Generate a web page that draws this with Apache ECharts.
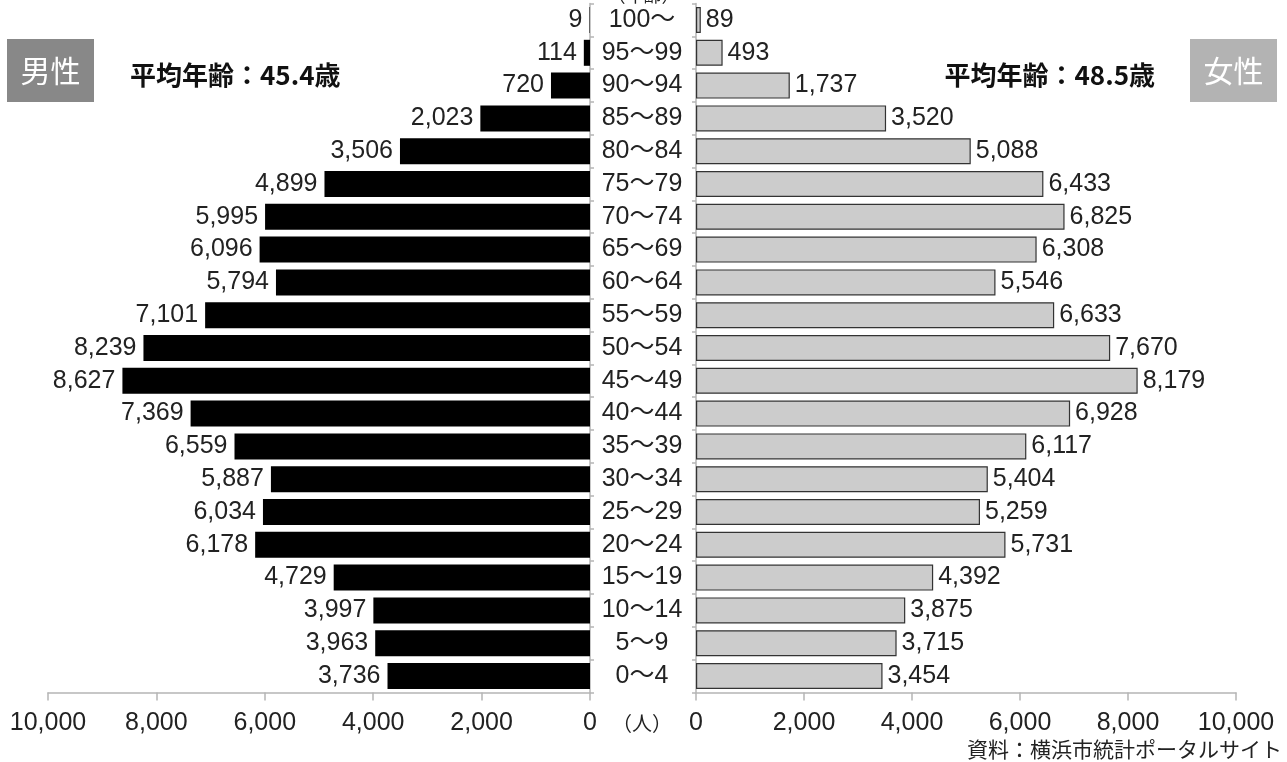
<!DOCTYPE html>
<html>
<head>
<meta charset="utf-8">
<script src="https://cdn.jsdelivr.net/npm/echarts@6/dist/echarts.min.js"></script>
<style>
  html, body { margin: 0; padding: 0; background: #fff; }
  #chart { width: 1287px; height: 762px; }
</style>
</head>
<body>
<div id="chart"></div>
<script>
// Age groups, youngest first (bottom of the pyramid)
const ageGroups = ['0〜4', '5〜9', '10〜14', '15〜19', '20〜24', '25〜29', '30〜34', '35〜39',
  '40〜44', '45〜49', '50〜54', '55〜59', '60〜64', '65〜69', '70〜74', '75〜79',
  '80〜84', '85〜89', '90〜94', '95〜99', '100〜'];
// Population (persons)
const male = [3736, 3963, 3997, 4729, 6178, 6034, 5887, 6559, 7369, 8627, 8239, 7101,
  5794, 6096, 5995, 4899, 3506, 2023, 720, 114, 9];
const female = [3454, 3715, 3875, 4392, 5731, 5259, 5404, 6117, 6928, 8179, 7670, 6633,
  5546, 6308, 6825, 6433, 5088, 3520, 1737, 493, 89];
const axisTicks = { min: 0, max: 10000, interval: 2000 };
const maleAvg = '平均年齢：45.4歳';
const femaleAvg = '平均年齢：48.5歳';
const sourceNote = '資料：横浜市統計ポータルサイト';

const FONT = "'Liberation Sans', 'Noto Sans CJK JP', sans-serif";
const CJK = "'Noto Sans CJK JP', sans-serif";
const fmt = v => Number(v).toLocaleString('en-US');

const chart = echarts.init(document.getElementById('chart'));

const valueAxisBase = {
  type: 'value',
  min: axisTicks.min, max: axisTicks.max, interval: axisTicks.interval,
  splitLine: { show: false },
  axisLine: { show: true, lineStyle: { color: '#b5b5b5', width: 1.5 } },
  axisTick: { show: true, length: 8, lineStyle: { color: '#b5b5b5', width: 1.5 } },
  axisLabel: { fontFamily: FONT, fontSize: 25, color: '#222', margin: 18,
    formatter: v => fmt(v) }
};
const catAxisBase = {
  type: 'category',
  data: ageGroups,
  axisLine: { show: true, lineStyle: { color: '#b5b5b5', width: 1.5 } },
  axisTick: { show: true, length: 4, lineStyle: { color: '#b5b5b5', width: 1.5 } }
};

chart.setOption({
  animation: false,
  backgroundColor: '#fff',
  grid: [
    { left: 48, width: 542, top: 3.6, height: 688.8 },
    { left: 696, width: 540, top: 3.6, height: 688.8 }
  ],
  xAxis: [
    Object.assign({ gridIndex: 0, inverse: true }, valueAxisBase),
    Object.assign({ gridIndex: 1 }, valueAxisBase)
  ],
  yAxis: [
    Object.assign({ gridIndex: 0, position: 'right',
      axisLabel: { show: true, fontFamily: FONT, fontSize: 25, color: '#222',
        align: 'center', margin: 52 } }, catAxisBase),
    Object.assign({ gridIndex: 1, position: 'left',
      axisLabel: { show: false } }, catAxisBase)
  ],
  series: [
    {
      name: '男性', type: 'bar', xAxisIndex: 0, yAxisIndex: 0,
      data: male, barWidth: 26,
      itemStyle: { color: '#000' },
      label: { show: true, position: 'left', distance: 7, fontFamily: FONT,
        fontSize: 25, color: '#222', formatter: p => fmt(p.value) }
    },
    {
      name: '女性', type: 'bar', xAxisIndex: 1, yAxisIndex: 1,
      data: female, barWidth: 26,
      itemStyle: { color: '#cccccc', borderColor: '#333', borderWidth: 1.2 },
      label: { show: true, position: 'right', distance: 5, fontFamily: FONT,
        fontSize: 25, color: '#222', formatter: p => fmt(p.value) }
    }
  ],
  graphic: [
    { type: 'text', left: 'center', top: -14, style: { text: '（年齢）', font: '18px ' + CJK, fill: '#222' } },
    { type: 'text', x: 642, y: 723, style: { text: '（人）', font: '20px ' + CJK, fill: '#222',
      align: 'center', verticalAlign: 'middle' } },
    { type: 'rect', shape: { x: 7, y: 39, width: 87, height: 63 }, style: { fill: '#888888' } },
    { type: 'text', x: 50.5, y: 71, style: { text: '男性', font: '30px ' + CJK, fill: '#fff',
      align: 'center', verticalAlign: 'middle' } },
    { type: 'rect', shape: { x: 1190, y: 39, width: 87, height: 63 }, style: { fill: '#b3b3b3' } },
    { type: 'text', x: 1233.5, y: 71, style: { text: '女性', font: '30px ' + CJK, fill: '#fff',
      align: 'center', verticalAlign: 'middle' } },
    { type: 'text', x: 130, y: 75, style: { text: maleAvg, font: 'bold 26px ' + CJK, fill: '#111',
      align: 'left', verticalAlign: 'middle' } },
    { type: 'text', x: 1155, y: 75, style: { text: femaleAvg, font: 'bold 26px ' + CJK, fill: '#111',
      align: 'right', verticalAlign: 'middle' } },
    { type: 'text', x: 1282, y: 749, style: { text: sourceNote, font: '21px ' + CJK, fill: '#222',
      align: 'right', verticalAlign: 'middle' } }
  ]
});
</script>
</body>
</html>
